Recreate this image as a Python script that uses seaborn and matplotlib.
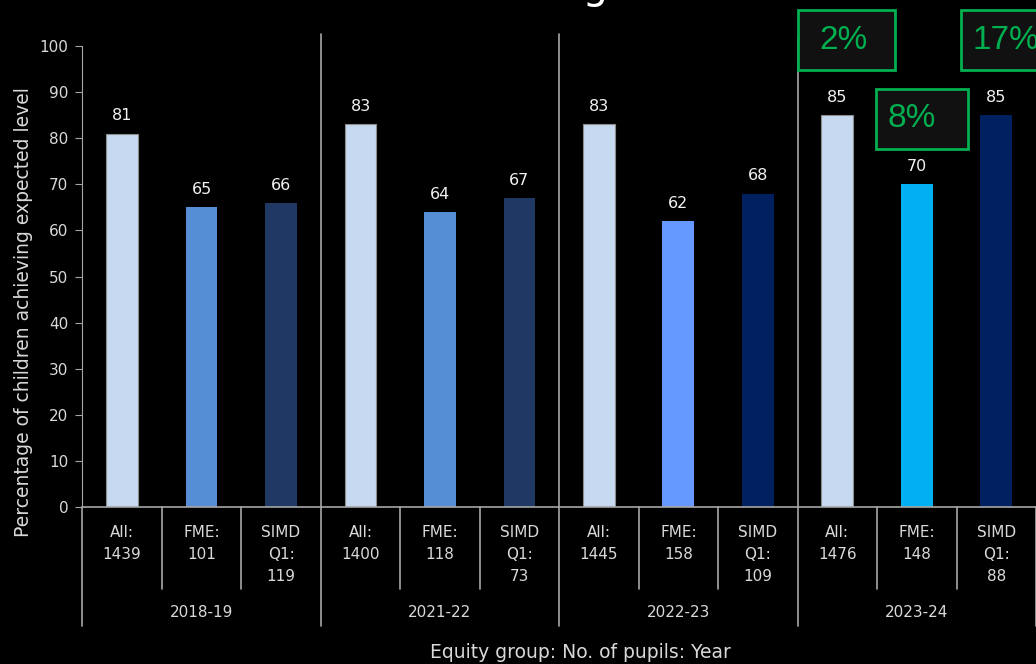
import matplotlib.pyplot as plt
import seaborn as sns
import pandas as pd
from matplotlib.patches import Rectangle

years = ["2018-19", "2021-22", "2022-23", "2023-24"]
groups = ["All:\n1439", "FME:\n101", "SIMD\nQ1:\n119",
          "All:\n1400", "FME:\n118", "SIMD\nQ1:\n73",
          "All:\n1445", "FME:\n158", "SIMD\nQ1:\n109",
          "All:\n1476", "FME:\n148", "SIMD\nQ1:\n88"]
values = [81, 65, 66, 83, 64, 67, 83, 62, 68, 85, 70, 85]
bar_colors = ["#C6D9F0", "#558ED5", "#1F3864",
              "#C6D9F0", "#558ED5", "#1F3864",
              "#C6D9F0", "#6699FF", "#002060",
              "#C6D9F0", "#00B0F0", "#002060"]
gap_labels = ["2%", "8%", "17%"]

sns.set_style("dark")
plt.rcParams['font.family'] = ['DejaVu Sans']

df = pd.DataFrame({"group": groups, "value": values})

fig = plt.figure(figsize=(10.36, 6.64), dpi=100, facecolor="black")
ax = fig.add_axes([0.0795, 0.2364, 0.9205, 0.6943])
ax.set_facecolor("black")

sns.barplot(data=df, x="group", y="value", hue="group", palette=bar_colors,
            legend=False, width=0.4, ax=ax, saturation=1)
for i, p in enumerate(ax.patches):
    if groups[i].startswith("All"):
        p.set_edgecolor("#8c8c8c")
        p.set_linewidth(0.8)
    else:
        p.set_edgecolor("none")
    ax.text(p.get_x() + p.get_width() / 2, p.get_height() + 2.2, str(values[i]),
            ha="center", va="bottom", color="#f2f2f2", fontsize=11.5)

ax.set_xlim(-0.5, 11.5)
ax.set_ylim(0, 100)
ax.set_yticks(range(0, 101, 10))
ax.grid(False)
for s in ["top", "right", "bottom"]:
    ax.spines[s].set_visible(False)
ax.spines["left"].set_color("#a6a6a6")
ax.axhline(0, color="#a6a6a6", lw=1.2, clip_on=False)
ax.tick_params(axis="y", direction="out", length=5, color="#a6a6a6",
               labelcolor="#d9d9d9", labelsize=11, left=True, pad=5)
ax.tick_params(axis="x", length=0, labelcolor="#d9d9d9", labelsize=11, pad=13)
for lab in ax.get_xticklabels():
    lab.set_linespacing(1.6)
    lab.set_verticalalignment("top")
ax.set_xlabel("")
ax.set_ylabel("Percentage of children achieving expected level", color="#d9d9d9",
              fontsize=13.5)
ax.yaxis.set_label_coords(-0.052, 0.423)

# group separator lines under the axis
trans = ax.get_xaxis_transform()
for k in range(13):
    xb = k - 0.5
    if k % 3 == 0:
        ax.plot([xb, xb], [0, -0.257], color="#a6a6a6", lw=1.2,
                transform=trans, clip_on=False)
        if 0 < k < 12:
            top = 1.018 if k == 9 else 1.025
            ax.plot([xb, xb], [0, top], color="#a6a6a6", lw=1.2,
                    transform=trans, clip_on=False)
    else:
        ax.plot([xb, xb], [0, -0.178], color="#a6a6a6", lw=1.2,
                transform=trans, clip_on=False)
for j, yr in enumerate(years):
    ax.text(3 * j + 1, -0.228, yr, transform=trans, ha="center", va="center",
            color="#d9d9d9", fontsize=11)
fig.text(0.56, 0.018, "Equity group: No. of pupils: Year", ha="center",
         va="center", color="#d9d9d9", fontsize=13.5)

# cut-off title
fig.text(0.508, 1 + 2 / 664, "Reading", ha="center", va="baseline",
         color="white", fontsize=29)

# green gap boxes
boxes = [(8.5, 94.8, 1.23, 13.0), (9.49, 77.7, 1.16, 13.0), (10.55, 94.8, 1.3, 13.0)]
offsets = [0.28, 0.14, 0.15]
for (bx, by, bw, bh), off, txt in zip(boxes, offsets, gap_labels):
    ax.add_patch(Rectangle((bx, by), bw, bh, facecolor="#111111", edgecolor="#00B050",
                           lw=2, clip_on=False, zorder=5))
    ax.text(bx + off, by + bh / 2, txt, ha="left", va="center", color="#00B050",
            fontsize=24, zorder=6, clip_on=False,
            family=["Liberation Sans", "DejaVu Sans"])

fig.savefig("out.png", dpi=100, facecolor="black")
